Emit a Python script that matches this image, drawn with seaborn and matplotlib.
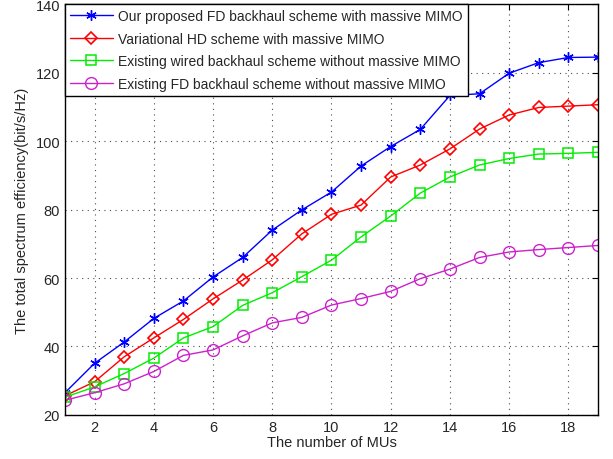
import pandas as pd
import matplotlib
matplotlib.use('Agg')
import matplotlib.pyplot as plt
import seaborn as sns
import numpy as np

mus = list(range(1, 20))
fd_massive = [26.5, 35.1, 41.3, 48.2, 53.3, 60.3, 66.0, 74.0, 79.9, 85.1,
              92.7, 98.4, 103.4, 113.3, 113.8, 119.8, 122.9, 124.4, 124.5]
hd_massive = [25.6, 29.7, 37.0, 42.5, 47.9, 53.9, 59.4, 65.3, 72.9, 78.6,
              81.3, 89.5, 93.0, 97.7, 103.5, 107.6, 109.8, 110.2, 110.6]
wired_nomimo = [25.2, 28.2, 32.1, 36.6, 42.5, 45.8, 52.0, 55.7, 60.4, 65.2,
                72.0, 78.1, 84.8, 89.5, 93.0, 94.9, 96.2, 96.4, 96.7]
fd_nomimo = [24.3, 26.5, 29.1, 32.7, 37.4, 39.0, 43.1, 46.9, 48.5, 52.1,
             54.0, 56.1, 59.8, 62.6, 66.0, 67.6, 68.3, 68.9, 69.5]

labels = ['Our proposed FD backhaul scheme with massive MIMO',
          'Variational HD scheme with massive MIMO',
          'Existing wired backhaul scheme without massive MIMO',
          'Existing FD backhaul scheme without massive MIMO']

df = pd.DataFrame({'MUs': mus, labels[0]: fd_massive, labels[1]: hd_massive,
                   labels[2]: wired_nomimo, labels[3]: fd_nomimo})

sns.set_style('white')
plt.rcParams['font.family'] = ['Liberation Sans', 'DejaVu Sans']

fig = plt.figure(figsize=(6.13, 4.6), dpi=100)
ax = fig.add_axes([0.106, 0.0957, 0.8695, 0.8933])

# colour, marker, size, edge width
styles = [('#0000ff', (6, 2, 0), 7.5, 1.0),
          ('#ff0000', 'D', 6.5, 1.2),
          ('#00ee00', 's', 6.5, 1.1),
          ('#cc22cc', 'o', 8.5, 1.0)]
for lab, (c, m, ms, mew) in zip(labels, styles):
    sns.lineplot(data=df, x='MUs', y=lab, ax=ax, color=c, marker=m, markersize=ms,
                 markerfacecolor='none', markeredgecolor=c, markeredgewidth=mew,
                 linewidth=1.0, label=lab)

ax.set_xlim(1, 19)
ax.set_ylim(20, 140)
ax.set_xticks(np.arange(2, 19, 2))
ax.set_yticks(np.arange(20, 141, 20))
ax.grid(True, color='black', linestyle=(0, (1, 4)), linewidth=0.8, alpha=0.7)
ax.tick_params(direction='in', top=True, right=True, labelsize=10.5, length=4,
               width=0.8, color='black')
for s in ax.spines.values():
    s.set_color('black')
    s.set_linewidth(1.0)
ax.set_xlabel('The number of MUs', fontsize=10.5, labelpad=1)
ax.set_ylabel('The total spectrum efficiency(bit/s/Hz)', fontsize=10.5, labelpad=5)

leg = ax.legend(loc='upper left', fontsize=10, fancybox=False, framealpha=1,
                edgecolor='black', handlelength=3.1, borderpad=0.35,
                labelspacing=0.62, borderaxespad=0.0, handletextpad=0.4)
leg.get_frame().set_linewidth(1.0)

fig.savefig('out.png', dpi=100)
